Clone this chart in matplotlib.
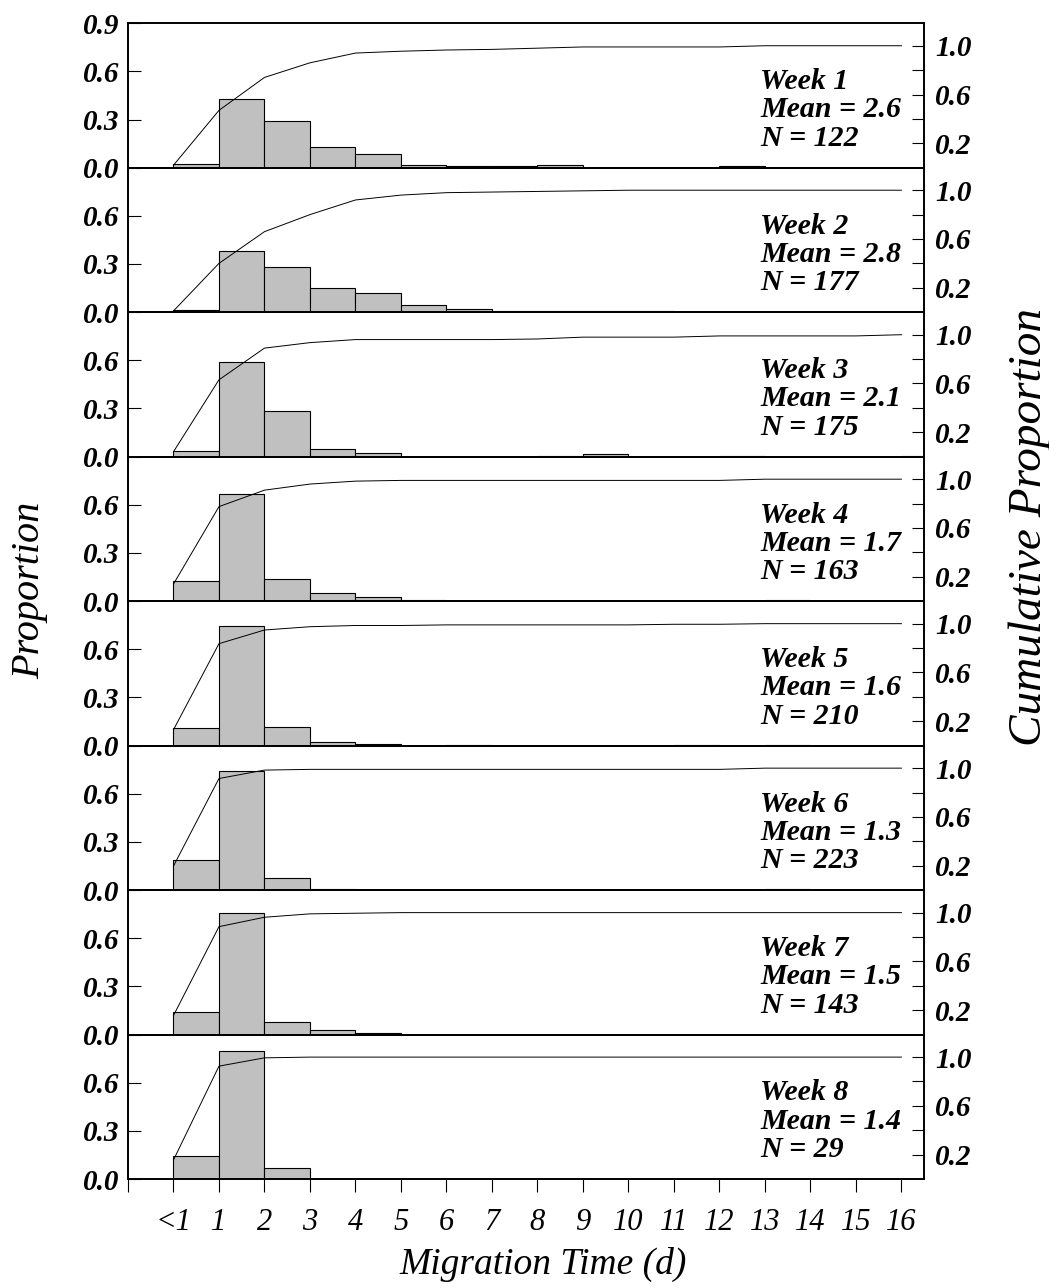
import numpy as np
import matplotlib.pyplot as plt

# weekly migration-time distributions (proportion per 1-day bin, "<1" .. 16)
weeks = [1, 2, 3, 4, 5, 6, 7, 8]
means = [2.6, 2.8, 2.1, 1.7, 1.6, 1.3, 1.5, 1.4]
counts = [122, 177, 175, 163, 210, 223, 143, 29]

bins = np.arange(17)
x_labels = ['<1'] + [str(d) for d in range(1, 17)]

prop_w1 = [0.025, 0.43, 0.29, 0.127, 0.083, 0.017, 0.008, 0.008, 0.016, 0, 0, 0, 0.008, 0, 0, 0, 0]
prop_w2 = [0.011, 0.381, 0.279, 0.152, 0.121, 0.042, 0.019, 0.006, 0.006, 0.006, 0.006, 0, 0, 0, 0, 0, 0]
prop_w3 = [0.034, 0.59, 0.286, 0.046, 0.021, 0, 0, 0, 0.006, 0.017, 0, 0, 0.006, 0, 0, 0, 0.006]
prop_w4 = [0.123, 0.666, 0.138, 0.05, 0.027, 0.006, 0, 0, 0, 0, 0, 0, 0, 0.006, 0, 0, 0]
prop_w5 = [0.108, 0.746, 0.117, 0.021, 0.0125, 0, 0.005, 0, 0, 0, 0, 0.005, 0, 0.005, 0, 0, 0]
prop_w6 = [0.19, 0.744, 0.0725, 0.005, 0, 0, 0, 0, 0, 0, 0, 0, 0, 0.0045, 0, 0, 0]
prop_w7 = [0.142, 0.76, 0.079, 0.031, 0.01, 0, 0, 0, 0, 0, 0, 0, 0, 0, 0, 0, 0]
prop_w8 = [0.141, 0.80, 0.07, 0, 0, 0, 0, 0, 0, 0, 0, 0, 0, 0, 0, 0, 0]

cum_w1 = [0.02, 0.47, 0.74, 0.86, 0.94, 0.955, 0.965, 0.97, 0.98, 0.99, 0.99, 0.99, 0.99, 1.0, 1.0, 1.0, 1.0]
cum_w2 = [0.01, 0.40, 0.66, 0.80, 0.92, 0.96, 0.98, 0.985, 0.99, 0.995, 1.0, 1.0, 1.0, 1.0, 1.0, 1.0, 1.0]
cum_w3 = [0.04, 0.63, 0.89, 0.935, 0.96, 0.96, 0.96, 0.96, 0.965, 0.98, 0.98, 0.98, 0.99, 0.99, 0.99, 0.99, 1.0]
cum_w4 = [0.14, 0.775, 0.91, 0.96, 0.984, 0.99, 0.99, 0.99, 0.99, 0.99, 0.99, 0.99, 0.99, 1.0, 1.0, 1.0, 1.0]
cum_w5 = [0.13, 0.836, 0.948, 0.975, 0.985, 0.985, 0.99, 0.99, 0.99, 0.99, 0.99, 0.995, 0.995, 1.0, 1.0, 1.0, 1.0]
cum_w6 = [0.197, 0.915, 0.984, 0.99, 0.99, 0.99, 0.99, 0.99, 0.99, 0.99, 0.99, 0.99, 0.99, 1.0, 1.0, 1.0, 1.0]
cum_w7 = [0.156, 0.885, 0.962, 0.99, 0.995, 1.0, 1.0, 1.0, 1.0, 1.0, 1.0, 1.0, 1.0, 1.0, 1.0, 1.0, 1.0]
cum_w8 = [0.156, 0.926, 0.994, 1.0, 1.0, 1.0, 1.0, 1.0, 1.0, 1.0, 1.0, 1.0, 1.0, 1.0, 1.0, 1.0, 1.0]

props = [prop_w1, prop_w2, prop_w3, prop_w4, prop_w5, prop_w6, prop_w7, prop_w8]
cums = [cum_w1, cum_w2, cum_w3, cum_w4, cum_w5, cum_w6, cum_w7, cum_w8]

serif = ['Liberation Serif', 'DejaVu Serif']
tick_font = dict(family=serif, size=21, weight='bold', style='italic')

fig, axes = plt.subplots(8, 1, figsize=(10.49, 12.88), dpi=100, sharex=True)
fig.subplots_adjust(left=0.122, right=0.881, top=0.982, bottom=0.0846, hspace=0)

for i, ax in enumerate(axes):
    ax.bar(bins, props[i], width=1, align='edge', color='#c0c0c0',
           edgecolor='black', linewidth=0.8)
    ax.set_xlim(-1, 16.5)
    ax.set_ylim(0, 0.9)
    ax.set_yticks([0, 0.3, 0.6, 0.9])
    ax.set_yticklabels(['0.0', '0.3', '0.6', '0.9' if i == 0 else ''], fontdict=tick_font)
    ax.tick_params(axis='y', direction='in', length=9, width=0.8, pad=6)
    for s in ax.spines.values():
        s.set_linewidth(1.2)

    # cumulative proportion on the right-hand axis
    ax2 = ax.twinx()
    ax2.plot(bins, cums[i], color='black', lw=0.7)
    ax2.set_ylim(0, 1.185)
    ax2.set_yticks([0.2, 0.4, 0.6, 0.8, 1.0])
    ax2.set_yticklabels(['0.2', '', '0.6', '', '1.0'], fontdict=tick_font)
    ax2.tick_params(axis='y', direction='in', length=9, width=0.8, pad=8)
    for s in ax2.spines.values():
        s.set_linewidth(1.2)

    ax.text(0.794, 0.40, f'Week {weeks[i]}\nMean = {means[i]}\nN = {counts[i]}',
            transform=ax.transAxes, ha='left', va='center', family=serif,
            fontsize=21.5, style='italic', weight='bold', linespacing=1.06)

    if i < len(axes) - 1:
        ax.tick_params(axis='x', bottom=False, labelbottom=False)

axes[-1].set_xticks(np.arange(-1, 17))
axes[-1].set_xticklabels([''] + x_labels, family=serif, fontsize=22, style='italic')
axes[-1].tick_params(axis='x', direction='out', length=9, width=0.8, pad=12)

fig.text(0.028, 0.542, 'Proportion', rotation=90, ha='center', va='center',
         family=serif, fontsize=29, style='italic')
fig.text(0.982, 0.591, 'Cumulative Proportion', rotation=90, ha='center', va='center',
         family=serif, fontsize=34, style='italic')
fig.text(0.518, 0.018, 'Migration Time (d)', ha='center', va='center',
         family=serif, fontsize=27, style='italic')

fig.savefig('out.png', dpi=100)
